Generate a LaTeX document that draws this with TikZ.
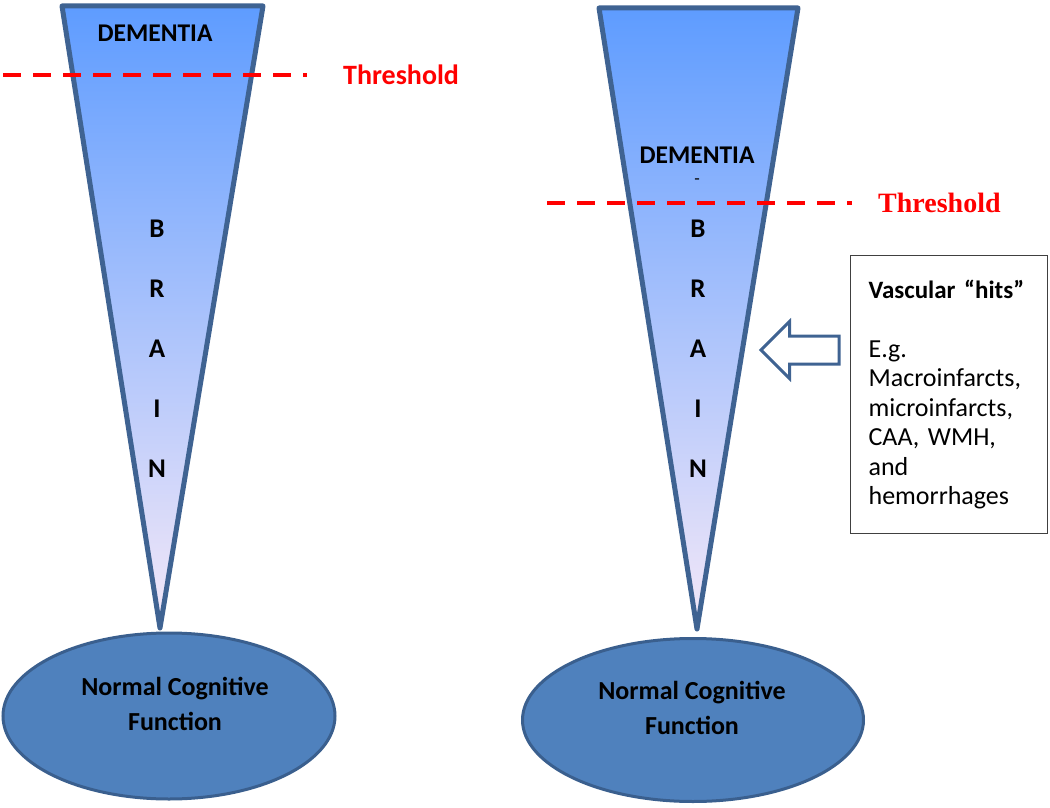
\documentclass[tikz,border=0pt]{standalone}
\usepackage{fontspec}
\usepackage{tikz, tkz-euclide}
\usetikzlibrary{positioning, shapes.geometric, shapes.arrows}
\setmainfont{Carlito}
\newfontfamily\thrserif{Liberation Serif}

\definecolor{conerim}{HTML}{3F6392}
\definecolor{conetop}{HTML}{5E9CFF}
\definecolor{conemid}{HTML}{9DC3F6}
\definecolor{conetip}{HTML}{F4E8F8}
\definecolor{basefill}{HTML}{4F81BD}
\definecolor{baserim}{HTML}{3A5F8E}
\definecolor{thrred}{HTML}{FF0000}

\tikzset{
  cone/.style={line width=5pt, draw=conerim, line join=round,
    top color=conetop, middle color=conemid, bottom color=conetip},
  cogbase/.style={ellipse, draw=baserim, line width=3pt, fill=basefill},
  basetext/.style={align=center, inner sep=0pt,
    font=\bfseries\fontsize{26}{35}\selectfont},
  dementia/.style={inner sep=0pt, font=\bfseries\fontsize{25.5}{30}\selectfont},
  brainletter/.style={inner sep=0pt, font=\bfseries\fontsize{27}{30}\selectfont},
  thrline/.style={draw=thrred, line width=4pt, dash pattern=on 18pt off 12pt},
  thrtext/.style={inner sep=0pt, text=thrred, font=\bfseries\fontsize{28}{32}\selectfont},
  hitsbox/.style={draw=black!75, line width=1.2pt, align=left, text width=161pt,
    inner xsep=18pt, minimum height=278pt, font=\fontsize{26}{29.5}\selectfont},
  hitsarrow/.style={single arrow, draw=conerim, line width=3pt, fill=white,
    shape border rotate=180, inner xsep=0pt, inner ysep=12.5pt, minimum height=78pt,
    minimum width=54pt, single arrow head extend=14.5pt}
}

\begin{document}
\begin{tikzpicture}[x=1pt, y=-1pt]
    \useasboundingbox (0,0) rectangle (1050,808);
    % normal cognitive function
    \node[cogbase, minimum width=332pt, minimum height=166pt] (baseL) at (169,716) {};
    \node[cogbase, minimum width=341pt, minimum height=163pt] (baseR) at (693,720) {};
    \node[basetext] (normL) at (175,704) {Normal Cognitive\\Function};
    \node[basetext] (normR) at (692,708) {Normal Cognitive\\Function};
    % the two brains
    \tkzDefPoints{62/6/A, 263/6/B, 160/628/C, 599/8/D, 798/8/E, 697/629/F}
    \tkzDrawPolygon[cone](A,B,C)
    \tkzDrawPolygon[cone](D,E,F)
    \node[dementia] (demL) at (155,33) {DEMENTIA};
    \node[dementia] (demR) at (697,155) {DEMENTIA};
    \node[inner sep=0pt, font=\fontsize{18}{20}\selectfont] (demdash) at (697,182) {-};
    \foreach \ch [count=\i] in {B,R,A,I,N}{
        \node[brainletter] (brainL\i) at (157,169+60*\i) {\ch};
        \node[brainletter] (brainR\i) at (698,169+60*\i) {\ch};
    }
    % thresholds
    \coordinate (thrLa) at (3,75);
    \coordinate (thrLb) at (307,75);
    \coordinate (thrRa) at (547,203);
    \coordinate (thrRb) at (852,203);
    \draw[thrline] (thrLa) -- (thrLb);
    \draw[thrline] (thrRa) -- (thrRb);
    \node[thrtext, right=36pt of thrLb] (thrL) {Threshold};
    \node[thrtext, right=26pt of thrRb, font=\thrserif\bfseries\fontsize{28}{32}\selectfont] (thrR) {Threshold};
    % vascular hits
    \node[hitsbox, anchor=north west] (hits) at (850,255)
        {\mbox{\bfseries\fontsize{25}{29.5}\selectfont Vascular “hits”}\\[29.5pt]
         E.g.\\ Macroinfarcts,\\ microinfarcts,\\ CAA, WMH,\\ and\\ hemorrhages};
    \node[hitsarrow] (arrowhits) at (807,350) {};
\end{tikzpicture}
\end{document}
